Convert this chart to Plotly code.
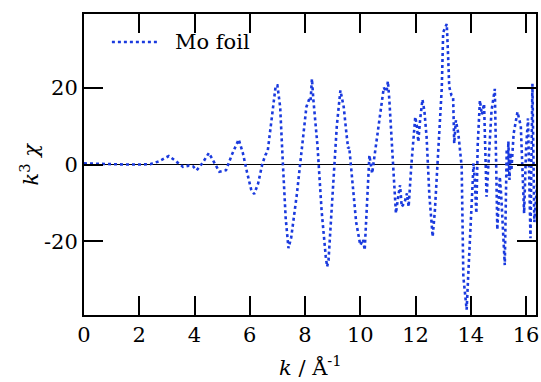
import plotly.graph_objects as go

# k (1/Angstrom) and k^3*chi values
k_values = [0.0, 0.5, 1.0, 1.5, 2.0, 2.4, 2.7, 3.07, 3.3, 3.58, 3.8, 3.95, 4.08, 4.3, 4.52,
            4.7, 4.9, 5.14, 5.35, 5.6, 5.75, 5.9, 6.05, 6.16, 6.3, 6.45, 6.56, 6.65, 6.8,
            6.94, 7.0, 7.1, 7.2, 7.3, 7.4, 7.5, 7.7, 7.9, 8.05, 8.15, 8.2, 8.25, 8.3, 8.45,
            8.6, 8.75, 8.8, 8.85, 9.0, 9.15, 9.28, 9.4, 9.5, 9.56, 9.6, 9.7, 9.85, 10.0,
            10.1, 10.16, 10.25, 10.33, 10.43, 10.55, 10.7, 10.85, 10.95, 11.0, 11.05, 11.15,
            11.29, 11.38, 11.44, 11.5, 11.6, 11.69, 11.75, 11.85, 11.99, 12.05, 12.1, 12.17,
            12.25, 12.32, 12.4, 12.5, 12.62, 12.7, 12.75, 12.89, 12.95, 13.0, 13.13, 13.18,
            13.22, 13.3, 13.36, 13.4, 13.46, 13.55, 13.67, 13.73, 13.85, 13.9, 14.03, 14.1,
            14.15, 14.2, 14.25, 14.33, 14.4, 14.48, 14.57, 14.65, 14.75, 14.87, 14.96, 15.05,
            15.1, 15.23, 15.3, 15.33, 15.36, 15.4, 15.44, 15.47, 15.55, 15.69, 15.75, 15.81,
            15.93, 16.0, 16.07, 16.16, 16.23, 16.3, 16.4]
k3chi = [0.3, 0.2, 0.0, 0.0, 0.0, 0.1, 0.8, 2.2, 1.0, -0.6, -0.3, -0.5, -1.5, 0.5, 3.0,
         0.5, -1.9, -1.5, 2.5, 6.5, 3.0, -2.0, -6.5, -7.7, -5.0, 0.0, 2.4, 3.5, 12.0,
         20.6, 20.6, 15.0, 0.0, -14.0, -21.8, -19.0, -8.0, 6.0, 15.0, 17.0, 16.5, 22.3, 17.0, 5.0,
         -12.0, -24.0, -26.6, -25.0, -8.0, 10.0, 19.3, 15.0, 8.0, 4.2, 4.5, -3.0, -15.0, -21.0,
         -19.5, -22.3, -8.0, 2.4, -2.3, 3.7, 12.0, 20.0, 19.0, 21.7, 17.0, 4.0,
         -12.7, -8.0, -5.4, -11.0, -10.0, -7.5, -11.0, 0.0, 12.4, 10.0, 5.9, 12.0,
         16.9, 14.0, 7.2, -8.0, -18.8, -12.0, -4.9, 12.4, 20.0, 34.4, 36.6, 28.0,
         20.2, 18.0, 17.6, 5.5, 11.5, 8.0, -0.6, -29.2, -37.8, -30.0, -11.9, 0.3,
         -5.0, -12.7, 5.0, 16.7, 13.0, 15.8, -8.4, 2.0, 14.0, 19.7, -17.0, -3.2,
         -8.0, -26.2, 4.0, -3.0, 6.0, -4.0, 3.0, -1.5, 8.0, 13.7, 12.0, 10.0,
         -12.7, 4.0, 12.0, -19.2, 21.0, -15.0, -5.0]

x_tick_vals = [0, 2, 4, 6, 8, 10, 12, 14, 16]
x_tick_text = ["0", "2", "4", "6", "8", "10", "12", "14", "16"]
y_tick_vals = [-20, 0, 20]
y_tick_text = ["-20", "0", "20"]
series_name = "Mo foil"

FONT = "DejaVu Serif"
FS = 21
LINE_COLOR = "#1a3ade"

fig = go.Figure()
fig.add_trace(go.Scatter(
    x=k_values, y=k3chi, mode="lines", name=series_name, showlegend=False,
    line=dict(color=LINE_COLOR, width=2.6, dash="dot"),
))

axis_common = dict(
    showgrid=False, showline=True, linecolor="black", linewidth=2, mirror="ticks",
    ticks="inside", ticklen=19, tickwidth=2, tickcolor="black",
    tickfont=dict(family=FONT, size=FS, color="black"),
)

fig.update_layout(
    width=541, height=382,
    margin=dict(l=84, r=3, t=14, b=67),
    paper_bgcolor="white", plot_bgcolor="white",
    font=dict(family=FONT, size=FS, color="black"),
    xaxis=dict(range=[0, 16.36], tickvals=x_tick_vals, ticktext=x_tick_text,
               zeroline=False, **axis_common),
    yaxis=dict(range=[-39.2, 39.2], tickvals=y_tick_vals, ticktext=y_tick_text,
               zeroline=True, zerolinecolor="black", zerolinewidth=1, **axis_common),
    shapes=[
        # legend sample line
        dict(type="line", xref="paper", yref="paper", x0=0.0617, x1=0.1674,
             y0=0.907, y1=0.907, line=dict(color=LINE_COLOR, width=2.6, dash="dot")),
    ],
    annotations=[
        dict(text=series_name, xref="paper", yref="paper", x=0.197, y=0.907,
             xanchor="left", yanchor="middle", showarrow=False,
             font=dict(family=FONT, size=FS)),
        dict(text="<i>k</i> / Å<sup>-1</sup>", xref="paper", yref="paper",
             x=0.5, y=0, yshift=-51, xanchor="center", yanchor="middle",
             showarrow=False, font=dict(family=FONT, size=FS)),
        dict(text="<i>k</i><sup>3</sup> <i>χ</i>", xref="paper", yref="paper",
             x=0, y=0.5, xshift=-55, xanchor="center", yanchor="middle",
             textangle=-90, showarrow=False, font=dict(family=FONT, size=FS)),
    ],
)

fig.write_html("out.html", config={"displayModeBar": False},
               post_script="document.body.style.margin='0';")
